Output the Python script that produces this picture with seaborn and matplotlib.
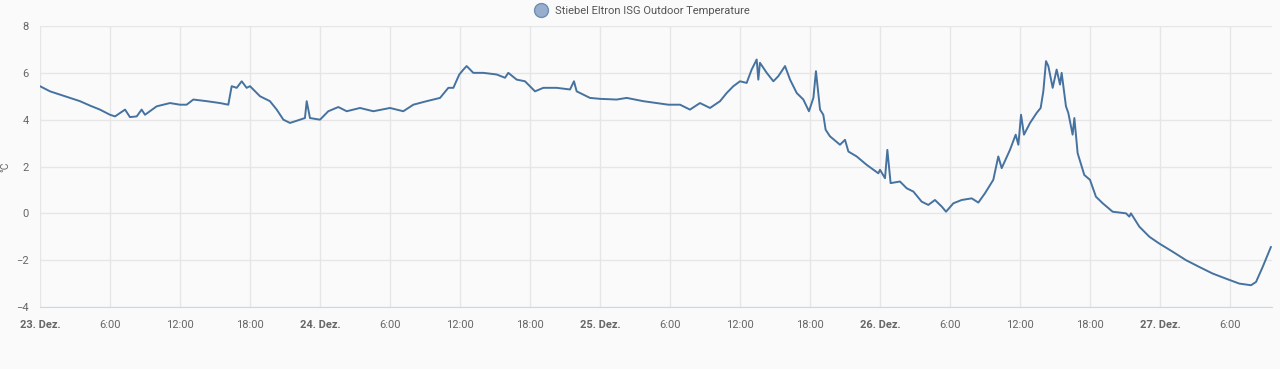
import matplotlib
matplotlib.use("Agg")
import matplotlib.pyplot as plt
from matplotlib.lines import Line2D
import seaborn as sns
import pandas as pd

# hours since 23. Dez 00:00
hours = [
    0.0, 0.86, 1.71, 2.57, 3.43, 4.29, 5.14, 6.0, 6.43, 7.29, 7.71, 8.29, 8.71, 9.0,
    10.0, 11.14, 12.0, 12.57, 13.14, 14.29, 15.43, 16.14, 16.43, 16.86, 17.29, 17.71,
    18.0, 18.86, 19.71, 20.29, 20.86, 21.43, 22.29, 22.71, 22.86, 23.14, 24.0,
    24.71, 25.57, 26.29, 27.43, 28.57, 30.0, 31.14, 32.0, 33.14, 34.29, 35.0, 35.43,
    35.94, 36.29, 36.57, 37.14, 38.0, 39.14, 39.86, 40.14, 40.86, 41.57, 42.43, 43.14,
    44.29, 45.43, 45.77, 46.0, 47.14, 48.0, 49.43, 50.29, 51.71, 52.86, 53.86,
    54.0, 54.86, 55.71, 56.57, 57.43, 58.29, 58.86, 59.43, 60.0, 60.57, 61.0, 61.43,
    61.57, 61.71, 62.29, 62.86, 63.29, 63.86, 64.29, 64.86, 65.43, 65.91, 66.29, 66.51,
    66.86, 67.14, 67.34, 67.71, 68.57, 69.0, 69.29, 70.0, 70.86, 71.86,
    72.0, 72.43, 72.63, 72.91, 73.71, 74.29, 74.86, 75.57, 76.14, 76.71, 77.29, 77.66,
    78.29, 79.0, 79.86, 80.43, 81.0, 81.71, 82.14, 82.43, 83.14, 83.63, 83.86, 84.09,
    84.34, 84.86, 85.43, 85.77, 86.0, 86.23, 86.43, 86.8, 87.14, 87.43, 87.57, 87.94,
    88.14, 88.51, 88.66, 88.94, 89.51, 90.0, 90.51, 91.09, 91.94, 93.09, 93.37, 93.51,
    94.23, 95.09, 95.94, 97.09, 98.23, 99.37, 100.51, 101.66, 102.8, 103.8, 104.23,
    104.8, 105.51,
]
temps = [
    5.43, 5.21, 5.07, 4.93, 4.79, 4.6, 4.43, 4.21, 4.14, 4.43, 4.11, 4.14, 4.43, 4.21,
    4.57, 4.71, 4.64, 4.64, 4.86, 4.79, 4.71, 4.64, 5.43, 5.36, 5.64, 5.36,
    5.43, 5.0, 4.79, 4.43, 4.0, 3.86, 4.0, 4.07, 4.79, 4.07, 4.0,
    4.36, 4.54, 4.36, 4.5, 4.36, 4.5, 4.36, 4.64, 4.79, 4.93, 5.36, 5.36,
    5.93, 6.14, 6.29, 6.0, 6.0, 5.93, 5.79, 6.0, 5.71, 5.64, 5.21, 5.36,
    5.36, 5.29, 5.64, 5.21, 4.93, 4.89, 4.86, 4.93, 4.79, 4.71, 4.64,
    4.64, 4.64, 4.43, 4.71, 4.5, 4.79, 5.14, 5.43, 5.64, 5.57, 6.14, 6.57,
    5.71, 6.43, 6.0, 5.64, 5.86, 6.29, 5.71, 5.14, 4.86, 4.36, 4.93, 6.07,
    4.43, 4.21, 3.57, 3.29, 2.93, 3.14, 2.64, 2.43, 2.07, 1.71,
    1.86, 1.5, 2.71, 1.29, 1.36, 1.07, 0.93, 0.5, 0.36, 0.57, 0.29, 0.07,
    0.43, 0.57, 0.64, 0.46, 0.86, 1.43, 2.43, 1.93, 2.71, 3.36, 2.93, 4.21,
    3.36, 3.86, 4.29, 4.5, 5.21, 6.5, 6.29, 5.36, 6.14, 5.5, 6.0, 4.57,
    4.29, 3.36, 4.07, 2.57, 1.64, 1.43, 0.71, 0.43, 0.07, 0.0, -0.14, 0.0,
    -0.57, -1.0, -1.29, -1.64, -2.0, -2.29, -2.57, -2.79, -3.0, -3.07, -2.93,
    -2.29, -1.43,
]

tick_hours = list(range(0, 103, 6))
tick_labels = ["23. Dez.", "6:00", "12:00", "18:00",
               "24. Dez.", "6:00", "12:00", "18:00",
               "25. Dez.", "6:00", "12:00", "18:00",
               "26. Dez.", "6:00", "12:00", "18:00",
               "27. Dez.", "6:00"]
series_name = "Stiebel Eltron ISG Outdoor Temperature"

df = pd.DataFrame({"hour": hours, "temp": temps})

sns.set_style("white")
plt.rcParams["font.family"] = ["Roboto", "DejaVu Sans"]

line_color = "#4672a0"
bg = "#fafafa"

fig = plt.figure(figsize=(12.8, 3.69), dpi=100, facecolor=bg)
ax = fig.add_axes([0.03125, 0.168, 0.9625, 0.7615])
ax.set_facecolor(bg)

sns.lineplot(data=df, x="hour", y="temp", ax=ax, color=line_color, linewidth=1.4)

ax.set_xlim(0, 105.6)
ax.set_ylim(-4, 8)
ax.set_yticks([-4, -2, 0, 2, 4, 6, 8])
ax.set_xticks(tick_hours)
ax.set_xticklabels(tick_labels)
for lbl in ax.get_xticklabels():
    if "Dez" in lbl.get_text():
        lbl.set_fontweight("bold")
        lbl.set_color("#555555")

ax.grid(True, color="#e6e6e6", linewidth=1)
ax.set_axisbelow(True)
for side in ["top", "right", "left"]:
    ax.spines[side].set_visible(False)
ax.spines["bottom"].set_color("#ccd6eb")
ax.tick_params(axis="both", length=0, labelsize=8, colors="#666666")
ax.tick_params(axis="x", pad=9)
ax.tick_params(axis="y", pad=8)
ax.set_xlabel("")
ax.set_ylabel("°C", fontsize=7.5, color="#666666")
ax.yaxis.set_label_coords(-0.024, 0.5)

handle = Line2D([], [], marker="o", linestyle="none", markersize=10,
                markerfacecolor="#98aece", markeredgecolor="#6f8db5")
fig.legend([handle], [series_name], loc="upper center", bbox_to_anchor=(0.5, 1.01),
           frameon=False, fontsize=8, labelcolor="#555555", handletextpad=0.3)

fig.savefig("out.png", dpi=100, facecolor=bg)
